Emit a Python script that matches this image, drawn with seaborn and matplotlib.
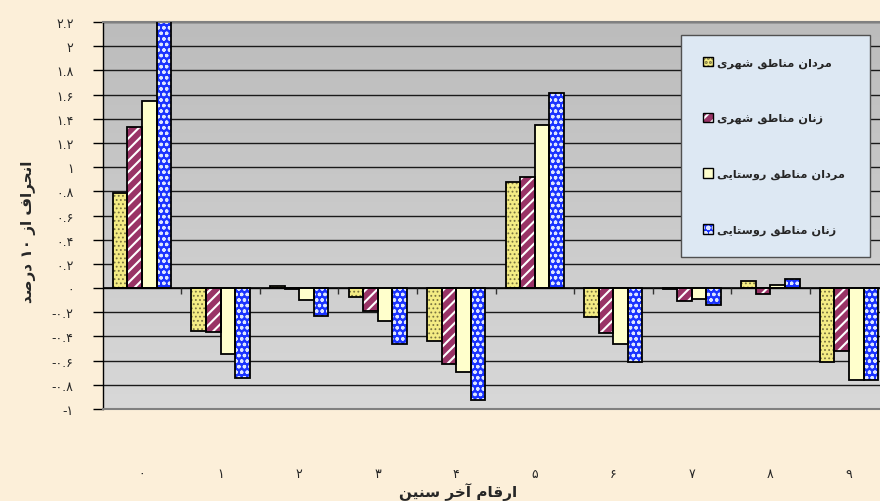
import re

import matplotlib
matplotlib.use('Agg')
import matplotlib.pyplot as plt
from matplotlib.colors import LinearSegmentedColormap
from matplotlib.legend_handler import HandlerTuple
from matplotlib.patches import Patch, Rectangle
import numpy as np
import pandas as pd
import seaborn as sns


digits = ['۰', '۱', '۲', '۳', '۴', '۵', '۶', '۷', '۸', '۹']
groups = ['مردان مناطق شهری', 'زنان مناطق شهری',
          'مردان مناطق روستایی', 'زنان مناطق روستایی']

men_urban = [0.79, -0.355, 0.015, -0.075, -0.435, 0.88, -0.24, -0.005, 0.06, -0.61]
women_urban = [1.33, -0.36, -0.01, -0.19, -0.63, 0.92, -0.37, -0.11, -0.05, -0.52]
men_rural = [1.55, -0.545, -0.10, -0.275, -0.69, 1.345, -0.46, -0.09, 0.025, -0.76]
women_rural = [2.35, -0.74, -0.23, -0.46, -0.925, 1.61, -0.61, -0.14, 0.075, -0.76]

y_ticks = [-1.0, -0.8, -0.6, -0.4, -0.2, 0.0, 0.2, 0.4, 0.6, 0.8,
           1.0, 1.2, 1.4, 1.6, 1.8, 2.0, 2.2]

x_title = 'ارقام آخر سنین'
y_title = 'انحراف از ۱۰ درصد'

# face colour, hatch, hatch colour, hatch width
styles = [
    ('#f4ec84', '....', '#7a7440', 0.8),
    ('#993366', '///', 'white', 1.5),
    ('#ffffcc', '', '#ffffcc', 1.0),
    ('#1a33ff', 'ooo', '#dde6ff', 0.9),
]

# contextual forms: isolated, final, initial, medial
FORMS = {
    'ا': ('\uFE8D', '\uFE8E', None, None),
    'آ': ('\uFE81', '\uFE82', None, None),
    'ت': ('\uFE95', '\uFE96', '\uFE97', '\uFE98'),
    'ح': ('\uFEA1', '\uFEA2', '\uFEA3', '\uFEA4'),
    'خ': ('\uFEA5', '\uFEA6', '\uFEA7', '\uFEA8'),
    'د': ('\uFEA9', '\uFEAA', None, None),
    'ر': ('\uFEAD', '\uFEAE', None, None),
    'ز': ('\uFEAF', '\uFEB0', None, None),
    'س': ('\uFEB1', '\uFEB2', '\uFEB3', '\uFEB4'),
    'ش': ('\uFEB5', '\uFEB6', '\uFEB7', '\uFEB8'),
    'ص': ('\uFEB9', '\uFEBA', '\uFEBB', '\uFEBC'),
    'ط': ('\uFEC1', '\uFEC2', '\uFEC3', '\uFEC4'),
    'ف': ('\uFED1', '\uFED2', '\uFED3', '\uFED4'),
    'ق': ('\uFED5', '\uFED6', '\uFED7', '\uFED8'),
    'م': ('\uFEE1', '\uFEE2', '\uFEE3', '\uFEE4'),
    'ن': ('\uFEE5', '\uFEE6', '\uFEE7', '\uFEE8'),
    'ه': ('\uFEE9', '\uFEEA', '\uFEEB', '\uFEEC'),
    'و': ('\uFEED', '\uFEEE', None, None),
    'ی': ('\uFBFC', '\uFBFD', '\uFBFE', '\uFBFF'),
}


def shape(text):
    # join letters, then put them in visual (left to right) order
    out = []
    for i, ch in enumerate(text):
        if ch not in FORMS:
            out.append(ch)
            continue
        prev = text[i - 1] if i > 0 else ''
        nxt = text[i + 1] if i + 1 < len(text) else ''
        join_prev = prev in FORMS and FORMS[prev][2] is not None
        join_next = FORMS[ch][2] is not None and nxt in FORMS
        if join_prev and join_next:
            out.append(FORMS[ch][3])
        elif join_prev:
            out.append(FORMS[ch][1])
        elif join_next:
            out.append(FORMS[ch][2])
        else:
            out.append(FORMS[ch][0])
    s = ''.join(out)
    runs = re.findall(r'[۰-۹0-9.]+|[^۰-۹0-9.]+', s)
    runs = [r if re.match(r'[۰-۹0-9.]', r) else r[::-1] for r in runs]
    return ''.join(runs[::-1])


def fa_num(v):
    s = '{:g}'.format(round(v, 2))
    return s.translate(str.maketrans('0123456789', '۰۱۲۳۴۵۶۷۸۹'))


def set_hatch_width(patch, w):
    if hasattr(patch, 'set_hatch_linewidth'):
        patch.set_hatch_linewidth(w)


def main():
    sns.set_style('white')
    plt.rcParams['font.family'] = ['DejaVu Sans']
    plt.rcParams['hatch.linewidth'] = 1.5

    df = pd.DataFrame({
        'digit': digits * 4,
        'group': np.repeat(groups, len(digits)),
        'value': men_urban + women_urban + men_rural + women_rural,
    })

    fig = plt.figure(figsize=(8.8, 5.02), dpi=100, facecolor='#fcefd9')
    ax = fig.add_axes([102.7 / 880, 92 / 502, 785.6 / 880, 387 / 502])

    # plot area gradient
    cmap = LinearSegmentedColormap.from_list('bg', ['#d8d8d8', '#bcbcbc'])
    ax.imshow(np.linspace(0, 1, 256).reshape(-1, 1), cmap=cmap, aspect='auto',
              extent=(0, 1, 0, 1), transform=ax.transAxes, zorder=0,
              origin='lower')

    sns.barplot(data=df, x='digit', y='value', hue='group', order=digits,
                hue_order=groups, palette=[s[0] for s in styles],
                saturation=1, width=0.74, errorbar=None, legend=False, ax=ax)

    for cont, (fc, hatch, hc, hw) in zip(ax.containers, styles):
        for bar in cont:
            bar.set_facecolor(fc)
            bar.set_hatch(hatch)
            bar.set_edgecolor(hc)
            bar.set_linewidth(0)
            set_hatch_width(bar, hw)
            bar.set_zorder(2)
            ax.add_patch(Rectangle(bar.get_xy(), bar.get_width(),
                                   bar.get_height(), fill=False,
                                   edgecolor='black', lw=1.3, zorder=3))

    ax.set_xlim(-0.5, len(digits) - 0.5)
    ax.set_ylim(y_ticks[0], y_ticks[-1])
    ax.set_yticks(y_ticks)
    ax.set_yticklabels([fa_num(v) for v in y_ticks], fontsize=9)
    ax.yaxis.grid(True, color='#1a1a1a', lw=1)
    ax.set_axisbelow(True)
    ax.tick_params(axis='y', direction='out', length=7, width=1,
                   color='black', pad=14, left=True)

    ax.set_xticks(range(len(digits)))
    ax.set_xticklabels(digits, fontsize=9)
    ax.tick_params(axis='x', length=0, pad=42)

    # zero line with category separators
    ax.axhline(0, color='black', lw=1.2, zorder=2.5)
    ax.vlines(np.arange(len(digits) - 1) + 0.5, -0.05, 0, color='#333333',
              lw=1, zorder=2.5)

    for side in ['top', 'bottom']:
        ax.spines[side].set_color('#808080')
        ax.spines[side].set_linewidth(1.5)
    ax.spines['left'].set_color('black')
    ax.spines['left'].set_linewidth(1)
    ax.spines['right'].set_visible(False)

    ax.set_xlabel(shape(x_title), fontsize=11, fontweight='bold')
    ax.xaxis.set_label_coords(0.452, -0.19)
    ax.set_ylabel(shape(y_title), fontsize=11, fontweight='bold')
    ax.yaxis.set_label_coords(-0.085, 0.46)

    handles = []
    for fc, hatch, hc, hw in styles:
        p = Patch(facecolor=fc, hatch=hatch, edgecolor=hc, lw=0)
        set_hatch_width(p, hw)
        handles.append((p, Patch(fill=False, edgecolor='black', lw=1)))
    top = 1 - 36 / 502
    leg = ax.legend(handles, [shape(g) for g in groups],
                    handler_map={tuple: HandlerTuple(ndivide=1)},
                    loc='upper left', mode='expand', borderaxespad=0,
                    bbox_to_anchor=(681 / 880, top - 0.1, 189 / 880, 0.1),
                    bbox_transform=fig.transFigure,
                    prop={'size': 8.2, 'weight': 'bold'},
                    labelspacing=3.95, borderpad=1.9, handlelength=0.9,
                    handleheight=0.9, handletextpad=0.4,
                    fancybox=False, framealpha=1)
    leg.get_frame().set_facecolor('#dde8f3')
    leg.get_frame().set_edgecolor('#505050')
    leg.get_frame().set_linewidth(1)

    fig.savefig('out.png', dpi=100, facecolor=fig.get_facecolor())


if __name__ == '__main__':
    main()
